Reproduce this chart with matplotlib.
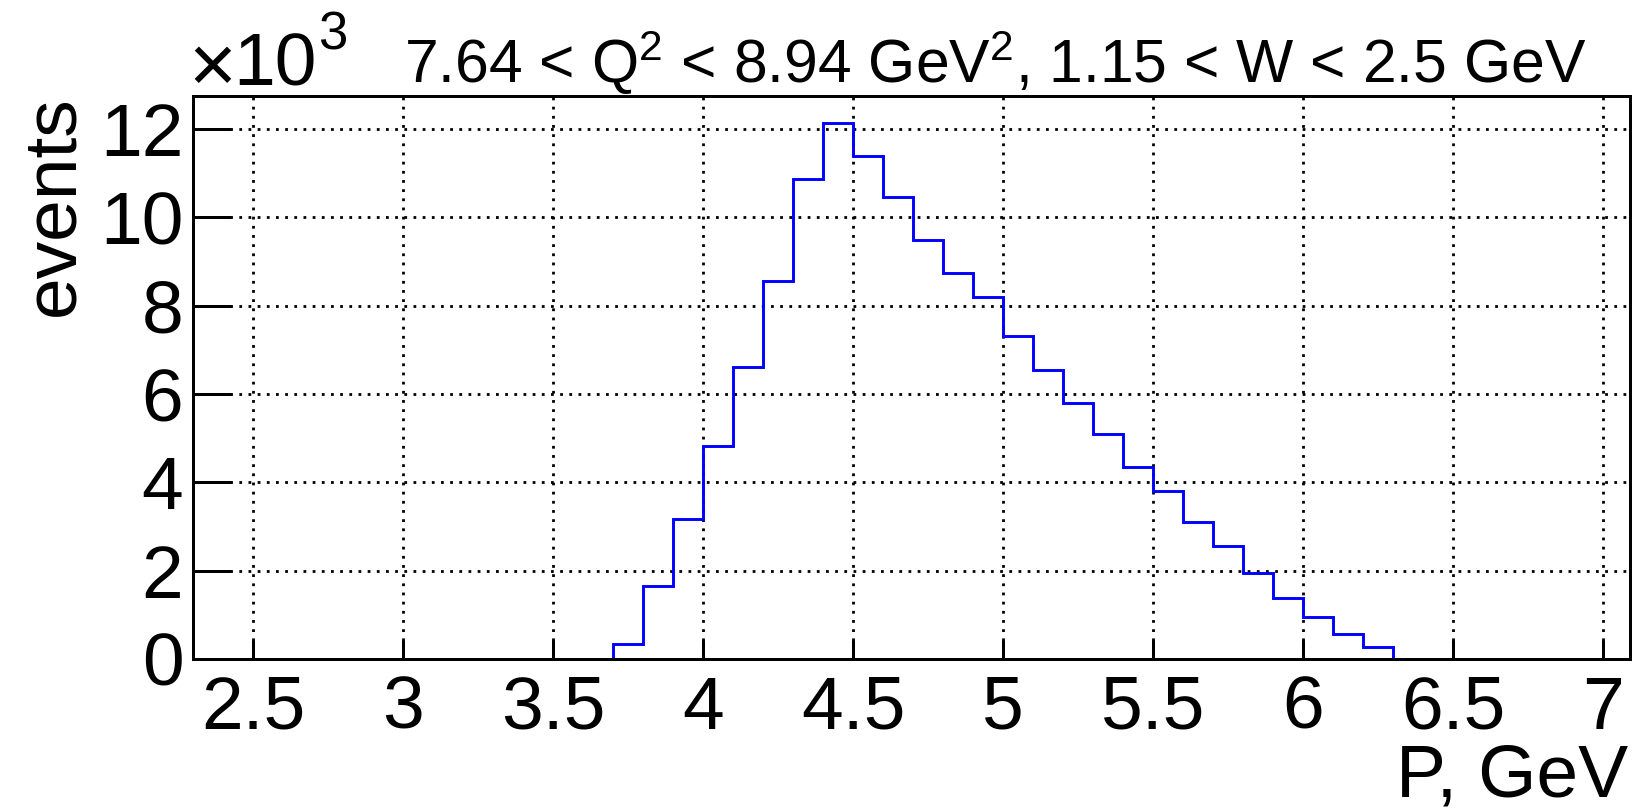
import matplotlib
matplotlib.use("Agg")
import matplotlib.pyplot as plt
import numpy as np

plt.rcParams['font.family'] = ['Liberation Sans', 'DejaVu Sans']
plt.rcParams['mathtext.fontset'] = 'custom'
plt.rcParams['mathtext.rm'] = 'Liberation Sans'
plt.rcParams['mathtext.it'] = 'Liberation Sans'
plt.rcParams['lines.scale_dashes'] = False

# ---- data ----
p_edges = [3.7, 3.8, 3.9, 4.0, 4.1, 4.2, 4.3, 4.4, 4.5, 4.6, 4.7, 4.8, 4.9,
           5.0, 5.1, 5.2, 5.3, 5.4, 5.5, 5.6, 5.7, 5.8, 5.9, 6.0, 6.1, 6.2, 6.3]
events = [330, 1660, 3180, 4820, 6610, 8560, 10880, 12130, 11380, 10470,
          9500, 8740, 8190, 7310, 6550, 5790, 5100, 4350, 3800, 3100,
          2550, 1940, 1390, 960, 560, 280]
x_ticks = [2.5, 3, 3.5, 4, 4.5, 5, 5.5, 6, 6.5, 7]
x_tick_labels = ['2.5', '3', '3.5', '4', '4.5', '5', '5.5', '6', '6.5', '7']
y_ticks = [0, 2, 4, 6, 8, 10, 12]
title = r'7.64 < $\mathregular{Q^{2}}$ < 8.94 GeV$\mathregular{^{2}}$, 1.15 < W < 2.5 GeV'

W, H = 1632, 810
fig = plt.figure(figsize=(W / 100, H / 100), dpi=100)
ax = fig.add_axes([193.3 / W, 1 - 659 / H, (1630 - 193.3) / W, (659 - 96) / H])

vals = np.array(events) / 1000.0
ax.stairs(vals, p_edges, color='#0000ff', linewidth=2.1, baseline=0, zorder=3)

ax.set_xlim(2.3, 7.09)
ax.set_ylim(0, 12.75)
ax.set_xticks(x_ticks)
ax.set_xticklabels(x_tick_labels)
ax.set_yticks(y_ticks)
ax.set_yticklabels([str(v) for v in y_ticks])

ax.grid(True, color='black', linewidth=2.0, linestyle=(0, (2.0, 4.6)), zorder=1)
ax.set_axisbelow(True)

for s in ax.spines.values():
    s.set_linewidth(2.16)
    s.set_zorder(4)

ax.tick_params(axis='x', direction='in', length=13.7, width=2.16, pad=11.5,
               labelsize=54, top=False)
ax.tick_params(axis='y', direction='in', length=27.4, width=2.16, pad=7.2,
               labelsize=54, right=False)

# labels
fig.text(1628 / W, 1 - 797 / H, 'P, GeV', fontsize=54, ha='right', va='baseline')
fig.text(88 / W, 1 - 95 / H, 'events', fontsize=54, rotation=90, ha='right', va='top')
# axis exponent "x10^3"
fig.text(188 / W, 1 - 92 / H, '×', fontsize=59, ha='left', va='baseline')
fig.text(233 / W, 1 - 85 / H, '10', fontsize=54, ha='left', va='baseline')
fig.text(318 / W, 1 - 49 / H, '3', fontsize=38, ha='left', va='baseline')
fig.text(404 / W, 1 - 83 / H, title, fontsize=43.7, ha='left', va='baseline')

fig.savefig('out.png', dpi=100)
